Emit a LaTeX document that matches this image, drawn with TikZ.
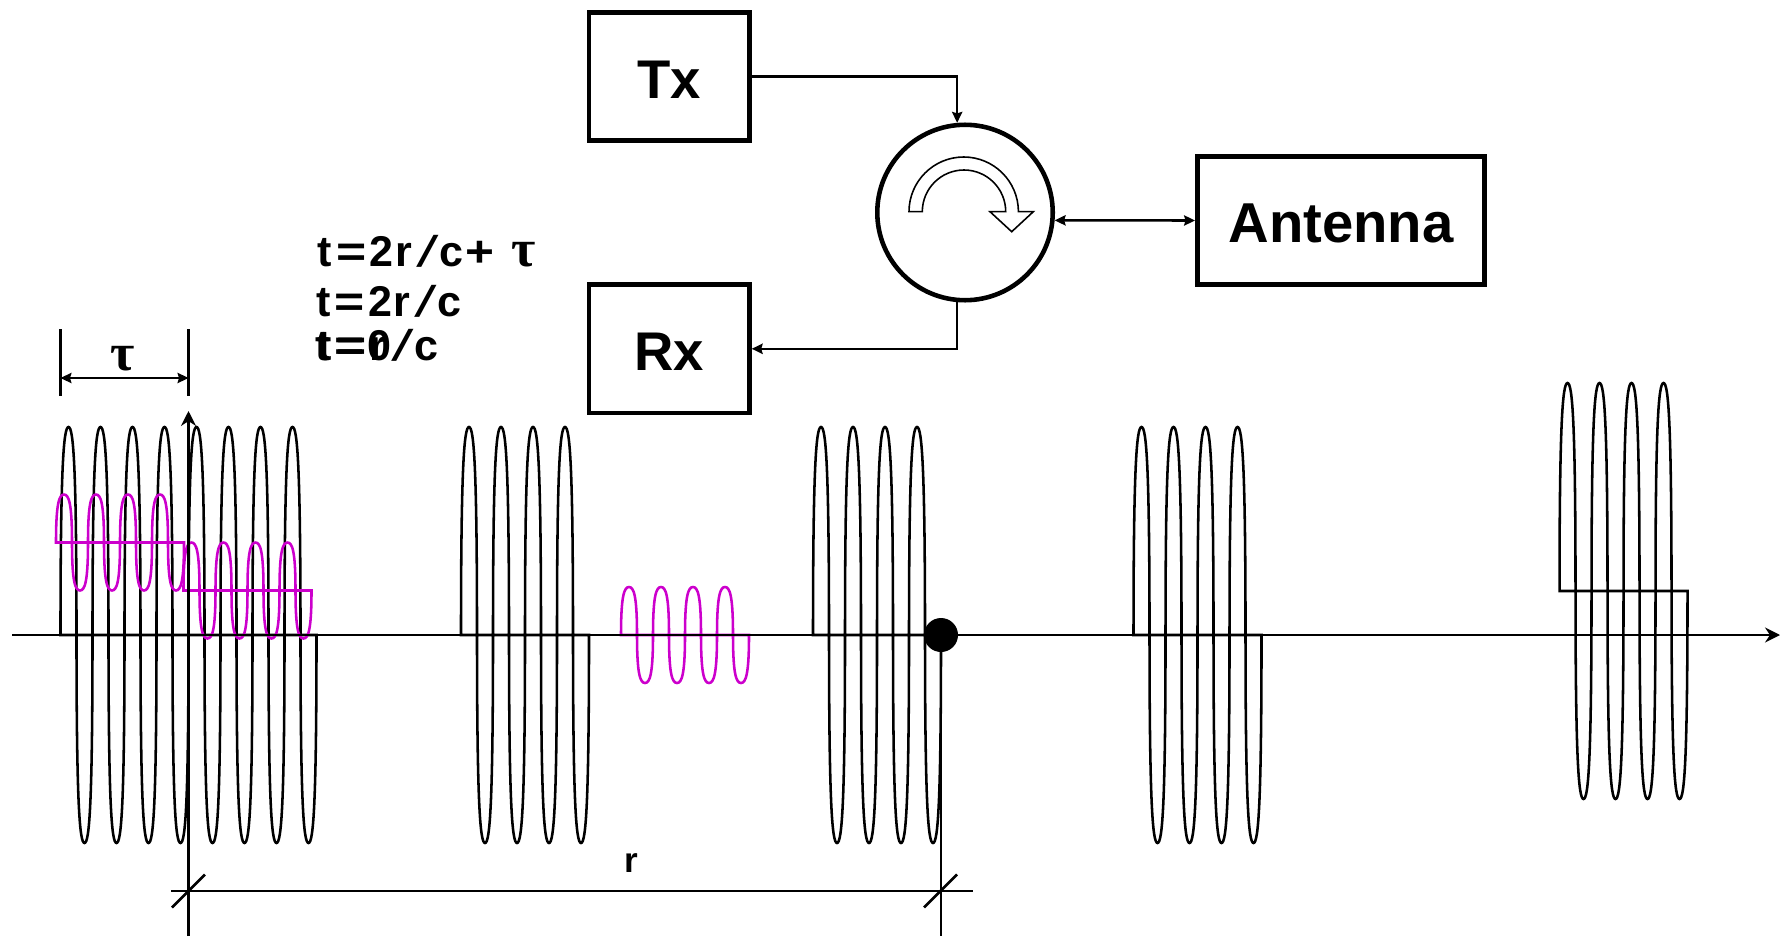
\documentclass[tikz,border=0pt]{standalone}
\usepackage{fontspec}
\setmainfont{Liberation Sans}
\newfontfamily\symbfont{Liberation Serif}
\newfontfamily\slashfont[FakeSlant=0.35]{Liberation Sans Bold}
\usetikzlibrary{arrows.meta}
\definecolor{echopink}{RGB}{204,0,204}
% one closed burst: colour, x, y, height, number of cycles
\newcommand{\burst}[5][black]{
	\draw [line width = 1.45pt, #1] (#2, #3) \foreach \k in {1, ..., #5} {
		.. controls +(0, -0.8*#4) and +(-5, 0) .. ++(8, -#4)
		.. controls +(5, 0) and +(0, -0.8*#4) .. ++(8, #4)
		.. controls +(0, 0.8*#4) and +(-5, 0) .. ++(8, #4)
		.. controls +(5, 0) and +(0, 0.8*#4) .. ++(8, -#4)
	} -- cycle;
}
% wide signs of the time labels
\newcommand{\teq}{\kern2.6pt\scalebox{1.2}[1]{=}\kern1.8pt}
\newcommand{\tsl}{\kern2.4pt{\slashfont /}\kern6.2pt}
\newcommand{\tplus}{\kern1.2pt\scalebox{1.15}[1]{+}}
\tikzset{
	unitbox/.style = {draw, line width = 2.6pt, inner sep = 0pt, text height = 24.5pt, text depth = 0pt, font = \bfseries\fontsize{31}{31}\selectfont},
	thinline/.style = {line width = 1.45pt},
	link/.style = {thinline, -{Stealth[length = 6.2pt, width = 5.8pt, inset = 0.8pt]}},
	timetext/.style = {anchor = base west, inner sep = 0pt, font = \bfseries\fontsize{24.5}{24.5}\selectfont},
}
\begin{document}
\begin{tikzpicture} [x = 0.02cm, y = -0.02cm]
	\useasboundingbox (0, 0) rectangle (1780, 936);
	% pulses
	\burst{60.5}{635}{208}{8}
	\burst{461}{635}{208}{4}
	\burst{813}{635}{208}{4}
	\burst{1133.5}{635}{208}{4}
	\burst{1559.5}{591}{208}{4}
	% echoes
	\burst[echopink]{56}{542.5}{48}{4}
	\burst[echopink]{183.5}{590.5}{48}{4}
	\burst[echopink]{621}{635}{48}{4}
	% axes
	\draw [thinline, -{Stealth[length = 8.5pt, width = 8.5pt]}] (12, 635) -- (1780, 635);
	\draw [thinline, -{Stealth[length = 8.5pt, width = 8.5pt]}] (188.5, 936) -- (188.5, 411);
	\draw [thinline] (941, 635) -- (941, 936);
	\node (target) [circle, fill, minimum size = 34*0.569pt, inner sep = 0pt] at (941, 635) {};
	% pulse width
	\draw [thinline] (60.5, 329) -- (60.5, 396);
	\draw [thinline] (188.5, 329) -- (188.5, 396);
	\draw [thinline, {Stealth[length = 6.2pt, width = 5.8pt, inset = 0.8pt]}-{Stealth[length = 6.2pt, width = 5.8pt, inset = 0.8pt]}] (60.5, 378) -- (188.5, 378);
	\node (taulbl) at (123, 359) {\symbfont\bfseries\fontsize{30}{30}\selectfont τ};
	% range
	\draw [thinline] (171, 891) -- (973, 891);
	\draw [thinline] (172, 907.5) -- (205, 874.5);
	\draw [thinline] (924, 907.5) -- (957, 874.5);
	\node (rangelbl) at (631, 863) {\bfseries\fontsize{20}{20}\selectfont r};
	% times
	\node (tend) [timetext] at (317.3, 266.7) {t\teq 2\kern0.8pt r\tsl c\tplus\kern10pt{\symbfont\fontsize{30}{30}\selectfont τ}};
	\node (tback) [timetext] at (315.7, 316.7) {t\teq 2\kern0.8pt r\tsl c};
	\node (tzero) [timetext] at (315, 360) {t\teq 0};
	\node (tout) [timetext] at (317, 360) {t\teq r\kern0.8pt\tsl c};
	% radar
	\node (tx) [unitbox, minimum width = 160.5*0.569pt, minimum height = 128.5*0.569pt] at (669.2, 76.5) {Tx};
	\node (rx) [unitbox, minimum width = 160.5*0.569pt, minimum height = 128.5*0.569pt] at (669.2, 348.8) {Rx};
	\node (antenna) [unitbox, font = \bfseries\fontsize{32}{32}\selectfont, minimum width = 287.5*0.569pt, minimum height = 128.5*0.569pt] at (1341, 220.5) {Antenna};
	\node (circulator) [circle, draw, line width = 2.6pt, inner sep = 0pt, minimum size = 175.5*0.569pt] at (965, 212.5) {};
	\draw [link] (tx.east) -| (circulator.95);
	\draw [link] (circulator.-95) |- (rx.east);
	\draw [link, {Stealth[length = 6.2pt, width = 5.8pt, inset = 0.8pt]}-{Stealth[length = 6.2pt, width = 5.8pt, inset = 0.8pt]}] (circulator.-5) -- (antenna.west);
	% hollow arrow inside the circulator
	\draw [line width = 0.9pt] (909, 211.7) arc (180:360:54.7) -- (1033.3, 211.7) -- (1011.7, 231.7) -- (990, 211.7) -- (1005.7, 211.7) arc (360:180:41.7) -- cycle;
\end{tikzpicture}
\end{document}
